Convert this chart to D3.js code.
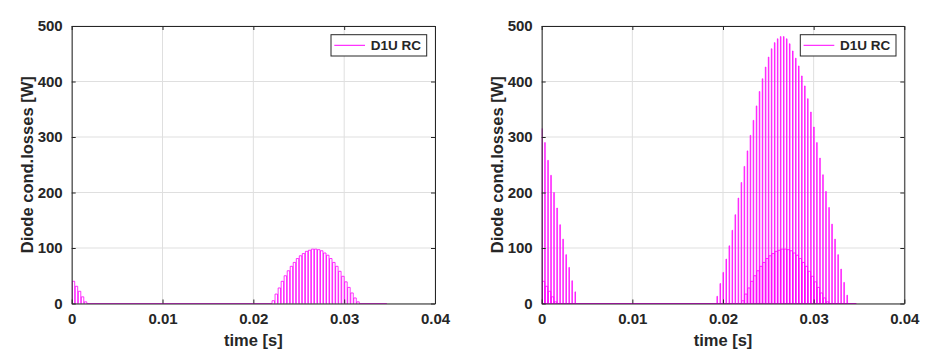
<!DOCTYPE html>
<html>
<head>
<meta charset="utf-8">
<script src="https://cdn.jsdelivr.net/npm/d3@7/dist/d3.min.js"></script>
<style>
  html, body { margin: 0; padding: 0; background: #fff; }
  svg { display: block; }
  text { font-family: "Liberation Sans", Arial, sans-serif; font-weight: bold; fill: #262626; }
</style>
</head>
<body>
<svg id="chart" width="944" height="361"></svg>
<script>
// ---------------- data ----------------
const xTicks = [0, 0.01, 0.02, 0.03, 0.04];
const xTickLabels = ["0", "0.01", "0.02", "0.03", "0.04"];
const yTicks = [0, 100, 200, 300, 400, 500];
const yTickLabels = ["0", "100", "200", "300", "400", "500"];
const xLabel = "time [s]";
const yLabel = "Diode cond.losses [W]";
const legendName = "D1U RC";

// D1U pulses (both charts): switching-period start times [ms] and pulse heights [W]
const smallT_ms = [0, 0.33, 0.67, 1.0, 1.33,
  22.0, 22.33, 22.67, 23.0, 23.33, 23.67, 24.0, 24.33, 24.67, 25.0,
  25.33, 25.67, 26.0, 26.33, 26.67, 27.0, 27.33, 27.67, 28.0, 28.33,
  28.67, 29.0, 29.33, 29.67, 30.0, 30.33, 30.67, 31.0, 31.33];
const smallP = [40, 31, 22, 12, 3,
  5, 17, 28, 40, 50, 59, 67, 74, 81, 86,
  90, 94, 96, 98, 98, 97, 95, 91, 87, 81,
  74, 67, 58, 49, 39, 29, 19, 10, 3];

// larger pulse train (right chart): start times [ms] and heights [W]
const bigT_ms = [0, 0.33, 0.67, 1.0, 1.33, 1.67, 2.0, 2.33, 2.67, 3.0, 3.33, 3.67,
  19.33, 19.67, 20.0, 20.33, 20.67, 21.0, 21.33, 21.67, 22.0, 22.33,
  22.67, 23.0, 23.33, 23.67, 24.0, 24.33, 24.67, 25.0, 25.33, 25.67,
  26.0, 26.33, 26.67, 27.0, 27.33, 27.67, 28.0, 28.33, 28.67, 29.0,
  29.33, 29.67, 30.0, 30.33, 30.67, 31.0, 31.33, 31.67, 32.0, 32.33,
  32.67, 33.0, 33.33, 33.67];
const bigP = [315, 290, 258, 231, 200, 172, 142, 116, 88, 65, 41, 21,
  13, 36, 56, 80, 104, 132, 160, 190, 218, 247,
  275, 303, 330, 356, 382, 405, 426, 444, 459, 470,
  477, 481, 481, 477, 468, 455, 442, 428, 410, 392,
  369, 345, 318, 290, 262, 232, 202, 173, 143, 116,
  88, 62, 38, 15];

const bigOn_ms = 0.06;      // conduction time of each large pulse
const smallDelay_ms = 0.06; // D1U conducts after the large pulse ends
const smallOn_ms = 0.27;    // conduction time of each D1U pulse
const tEnd_ms = 34.7;       // end of simulated trace

// ---------------- drawing ----------------
const svg = d3.select("#chart");
const COLOR = "#ff00ff";
const AX = "#262626";

function pulsePoints(T, P, delay, on, tEnd) {
  const pts = [[0, 0]];
  T.forEach((t, i) => {
    const t0 = (t + delay) / 1000, t1 = (t + delay + on) / 1000;
    pts.push([t0, 0], [t0, P[i]], [t1, P[i]], [t1, 0]);
  });
  pts.push([tEnd / 1000, 0]);
  return pts;
}

function panel(id, left, right, traces) {
  const top = 26, bottom = 303.5;
  const x = d3.scaleLinear().domain([0, 0.04]).range([left, right]);
  const y = d3.scaleLinear().domain([0, 500]).range([bottom, top]);
  const g = svg.append("g");

  g.append("g").selectAll("line").data(xTicks).join("line")
    .attr("x1", d => x(d)).attr("x2", d => x(d))
    .attr("y1", top).attr("y2", bottom)
    .attr("stroke", "#dfdfdf").attr("stroke-width", 1);
  g.append("g").selectAll("line").data(yTicks).join("line")
    .attr("x1", left).attr("x2", right)
    .attr("y1", d => y(d)).attr("y2", d => y(d))
    .attr("stroke", "#dfdfdf").attr("stroke-width", 1);

  svg.append("clipPath").attr("id", "clip" + id).append("rect")
    .attr("x", left).attr("y", top - 1).attr("width", right - left).attr("height", bottom - top + 2);

  const tl = 4;
  const axB = d3.axisBottom(x).tickValues(xTicks).tickFormat((d, i) => xTickLabels[i]).tickSizeInner(-tl).tickSizeOuter(0).tickPadding(10);
  const axT = d3.axisTop(x).tickValues(xTicks).tickFormat("").tickSizeInner(-tl).tickSizeOuter(0);
  const axL = d3.axisLeft(y).tickValues(yTicks).tickFormat((d, i) => yTickLabels[i]).tickSizeInner(-tl).tickSizeOuter(0).tickPadding(9);
  const axR = d3.axisRight(y).tickValues(yTicks).tickFormat("").tickSizeInner(-tl).tickSizeOuter(0);

  const traceG = g.append("g").attr("clip-path", `url(#clip${id})`);
  const line = d3.line().x(d => x(d[0])).y(d => y(d[1]));
  traces.forEach(tr => {
    traceG.append("path").attr("d", line(tr)).attr("fill", "none")
      .attr("stroke", COLOR).attr("stroke-width", 0.8).attr("stroke-linejoin", "miter");
  });

  const styleAxis = sel => {
    sel.selectAll("path").attr("stroke", AX).attr("stroke-width", 1);
    sel.selectAll("line").attr("stroke", AX).attr("stroke-width", 1);
    sel.selectAll("text").attr("fill", AX).style("font-size", "15px")
      .style("font-family", '"Liberation Sans", Arial, sans-serif').style("font-weight", "bold");
  };
  g.append("g").attr("transform", `translate(0,${bottom})`).call(axB).call(styleAxis);
  g.append("g").attr("transform", `translate(0,${top})`).call(axT).call(styleAxis);
  g.append("g").attr("transform", `translate(${left},0)`).call(axL).call(styleAxis);
  g.append("g").attr("transform", `translate(${right},0)`).call(axR).call(styleAxis);

  g.append("text").attr("x", (left + right) / 2).attr("y", 346)
    .attr("text-anchor", "middle").style("font-size", "16.5px").text(xLabel);
  g.append("text").attr("transform", `translate(${left - 38.5},${(top + bottom) / 2}) rotate(-90)`)
    .attr("text-anchor", "middle").style("font-size", "16.5px").text(yLabel);

  const lx = right - 8.3 - 95.7, ly = 34.7, lw = 95.7, lh = 21.3;
  g.append("rect").attr("x", lx).attr("y", ly).attr("width", lw).attr("height", lh)
    .attr("fill", "#fff").attr("stroke", AX).attr("stroke-width", 1);
  g.append("line").attr("x1", lx + 3.3).attr("x2", lx + 34).attr("y1", ly + 10.6).attr("y2", ly + 10.6)
    .attr("stroke", COLOR).attr("stroke-width", 1);
  g.append("text").attr("x", lx + 39.7).attr("y", ly + 15.5).style("font-size", "13.5px").text(legendName);
}

const smallTrace = pulsePoints(smallT_ms, smallP, smallDelay_ms, smallOn_ms, tEnd_ms);
const bigTrace = pulsePoints(bigT_ms, bigP, 0, bigOn_ms, tEnd_ms);

panel("L", 71.7, 435, [smallTrace]);
panel("R", 541.7, 904.3, [bigTrace, smallTrace]);
</script>
</body>
</html>
